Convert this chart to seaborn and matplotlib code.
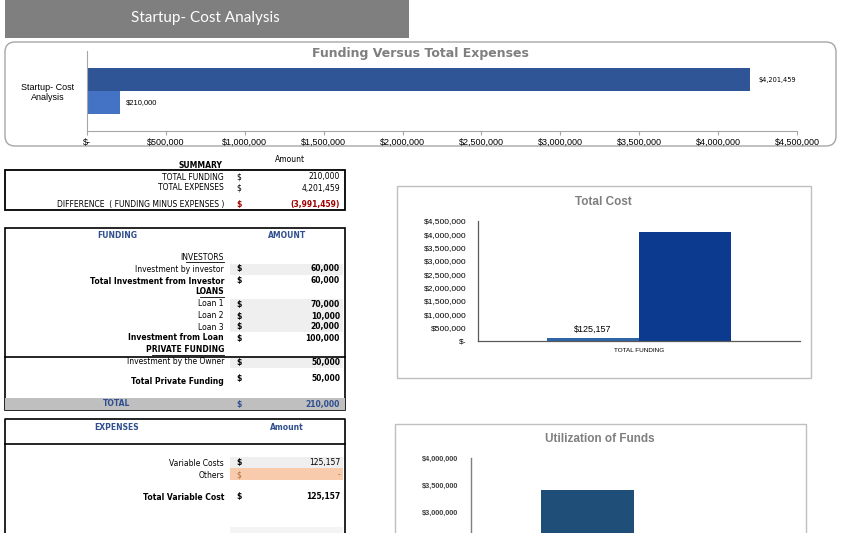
import pandas as pd
import matplotlib.pyplot as plt
import seaborn as sns
from matplotlib.patches import Rectangle, FancyBboxPatch

# ---- data ----
header_title = 'Startup- Cost Analysis'

fve_category = 'Startup- Cost\nAnalysis'
fve_series = ['Total Expenses', 'Total Funding']
fve_values = [4201459, 210000]
fve_ticks = [0, 500000, 1000000, 1500000, 2000000, 2500000, 3000000, 3500000, 4000000, 4500000]

summary_labels = ['TOTAL FUNDING', 'TOTAL EXPENSES', 'DIFFERENCE  ( FUNDING MINUS EXPENSES )']
summary_values = ['210,000', '4,201,459', '(3,991,459)']

funding_labels = ['Investment by investor', 'Total Investment from Investor',
                  'Loan 1', 'Loan 2', 'Loan 3', 'Investment from Loan',
                  'Investment by the Owner', 'Total Private Funding']
funding_values = ['60,000', '60,000', '70,000', '10,000', '20,000', '100,000', '50,000', '50,000']
funding_sections = ['INVESTORS', 'LOANS', 'PRIVATE FUNDING']
funding_total = '210,000'

expense_labels = ['Variable Costs', 'Others', 'Total Variable Cost']
expense_values = ['125,157', '-', '125,157']

tc_category = 'TOTAL FUNDING'
tc_series = ['Variable Cost', 'Other Cost']
tc_values = [125157, 4076302]
tc_ticks = [0, 500000, 1000000, 1500000, 2000000, 2500000, 3000000, 3500000, 4000000, 4500000]

uf_category = ['Funds']
uf_values = [3410000]
uf_ticks = [3000000, 3500000, 4000000]  # only these show above the crop

W, H = 850, 533
GRAY = '#7f7f7f'
BLUE_TXT = '#2f4f8f'
TF = 'DejaVu Sans'   # table font
CF = 'Liberation Sans'  # chart font
TS = 5.5  # table font size


def money(v):
    return '$-' if v == 0 else f'${v:,.0f}'


fig = plt.figure(figsize=(W / 100, H / 100), dpi=100)


def px_axes(x0, y0, x1, y1, z=2):
    return fig.add_axes([x0 / W, 1 - y1 / H, (x1 - x0) / W, (y1 - y0) / H], zorder=z)


bg = px_axes(0, 0, W, H, z=0)
bg.set_xlim(0, W)
bg.set_ylim(H, 0)
bg.axis('off')


def rect(x0, y0, x1, y1, **kw):
    bg.add_patch(Rectangle((x0, y0), x1 - x0, y1 - y0, **kw))


def txt(x, y, s, ha='right', size=TS, bold=False, color='black', family=TF, **kw):
    bg.text(x, y, s, ha=ha, va='center', fontsize=size, color=color, family=family,
            fontweight='bold' if bold else 'normal', **kw)


# header bar
rect(5, 0, 409, 38, facecolor=GRAY, edgecolor='none')
txt(205, 18, header_title, ha='center', size=11, color='white', family='Lato')

# rounded frame for top chart
bg.add_patch(FancyBboxPatch((5, 42), 831, 104, boxstyle='round,pad=0,rounding_size=10',
                            facecolor='white', edgecolor='#a6a6a6', lw=1))
txt(420, 54, 'Funding Versus Total Expenses', ha='center', size=9, bold=True, color=GRAY)

# ---- SUMMARY ----
txt(200, 165, 'SUMMARY', ha='center', bold=True)
txt(290, 160, 'Amount', ha='center')
rect(5, 170, 345, 210, facecolor='none', edgecolor='black', lw=1.3)
for y, lab, val in zip([177, 188, 205], summary_labels, summary_values):
    red = val.startswith('(')
    txt(224, y, lab)
    txt(239, y, '$', ha='center', bold=red, color='#a00000' if red else 'black')
    txt(340, y, val, bold=red, color='#a00000' if red else 'black')

# ---- FUNDING ----
rect(5, 228, 345, 410, facecolor='none', edgecolor='black', lw=1.2)
txt(117, 235, 'FUNDING', ha='center', bold=True, color=BLUE_TXT)
txt(287, 235, 'AMOUNT', ha='center', bold=True, color=BLUE_TXT)
for (y0, y1) in [(264, 275), (299, 332), (357, 368)]:
    rect(230, y0, 343, y1, facecolor='#efefef', edgecolor='none')
for y, s in zip([257, 292, 350], funding_sections):
    plain = s == 'INVESTORS'
    bg.text(224, y, s, ha='right', va='center', fontsize=TS, family=TF,
            fontweight='normal' if plain else 'bold')
    bg.plot([224 - len(s) * (4.2 if plain else 4.8), 224], [y + 4.5, y + 4.5],
            color='black', lw=0.6)
bg.plot([5, 345], [357, 357], color='black', lw=1.2)
rows_y = [269, 281, 304, 316, 327, 338, 362, 380]
bold_rows = {1, 5, 7}
for i, (y, lab, val) in enumerate(zip(rows_y, funding_labels, funding_values)):
    b = i in bold_rows
    txt(224, y + (1 if i == 7 else 0), lab, bold=b)
    txt(239, y - (2 if i == 7 else 0), '$', ha='center', bold=True)
    txt(340, y - (2 if i == 7 else 0), val, bold=True)
rect(5, 398, 345, 410, facecolor='#bfbfbf', edgecolor='none')
txt(117, 404, 'TOTAL', ha='center', bold=True, color=BLUE_TXT)
txt(239, 404, '$', ha='center', bold=True, color=BLUE_TXT)
txt(340, 404, funding_total, bold=True, color=BLUE_TXT)

# ---- EXPENSES ----
bg.plot([5, 5, 345, 345], [540, 419, 419, 540], color='black', lw=1.2)
bg.plot([5, 345], [444, 444], color='black', lw=1.2)
txt(117, 428, 'EXPENSES', ha='center', bold=True, color=BLUE_TXT)
txt(287, 428, 'Amount', ha='center', bold=True, color=BLUE_TXT)
rect(230, 457, 343, 468, facecolor='#efefef', edgecolor='none')
rect(230, 468, 343, 480, facecolor='#f8cbad', edgecolor='none')
rect(230, 527, 343, 533, facecolor='#f4f4f4', edgecolor='none')
for i, (y, lab, val) in enumerate(zip([463, 475, 497], expense_labels, expense_values)):
    b = i == 2
    col = '#b0703a' if i == 1 else 'black'
    txt(224, y, lab, bold=b)
    txt(239, y, '$', ha='center', bold=(i != 1), color=col)
    txt(340, y, val, bold=b, color=col)

# frames for the two right charts
rect(397, 186, 811, 378, facecolor='white', edgecolor='#bfbfbf', lw=1)
txt(603, 202, 'Total Cost', ha='center', size=8.5, bold=True, color=GRAY, family=CF)
rect(395, 424, 806, 545, facecolor='white', edgecolor='#bfbfbf', lw=1)
txt(600, 439, 'Utilization of Funds', ha='center', size=8.5, bold=True, color=GRAY, family=CF)

# ---- Funding versus total expenses (horizontal bars) ----
ax1 = px_axes(87, 51, 797, 131)
df1 = pd.DataFrame({'cat': [fve_category] * 2, 'series': fve_series, 'value': fve_values})
sns.barplot(data=df1, x='value', y='cat', hue='series', orient='h', dodge=True, width=0.8,
            palette=['#2f5597', '#4472c4'], legend=False, ax=ax1, saturation=1)
ax1.set_xlim(0, 4500000)
ax1.set_ylim(0.71, -0.71)
ax1.set_xticks(fve_ticks)
ax1.set_xticklabels([money(v) for v in fve_ticks], fontsize=6.5, family=CF)
ax1.tick_params(axis='x', length=3, color='#a6a6a6', pad=2)
ax1.tick_params(axis='y', length=0, pad=9)
for t in ax1.get_yticklabels():
    t.set_fontsize(6.5)
    t.set_family(CF)
    t.set_multialignment('center')
ax1.set_xlabel('')
ax1.set_ylabel('')
ax1.patch.set_alpha(0)
for s in ['top', 'right']:
    ax1.spines[s].set_visible(False)
for s in ['left', 'bottom']:
    ax1.spines[s].set_color('#a6a6a6')
    ax1.spines[s].set_linewidth(0.8)
ax1.bar_label(ax1.containers[0], labels=[money(fve_values[0])], padding=6, fontsize=4.8, family=TF)
ax1.bar_label(ax1.containers[1], labels=[money(fve_values[1])], padding=4, fontsize=5.5, family=CF)

# ---- Total Cost ----
ax2 = px_axes(478, 221, 800, 341)
df2 = pd.DataFrame({'cat': [tc_category] * 2, 'series': tc_series, 'value': tc_values})
sns.barplot(data=df2, x='cat', y='value', hue='series', dodge=True, width=0.8,
            palette=['#2e64a8', '#0b3a8e'], legend=False, ax=ax2, saturation=1)
ax2.set_xlim(-0.7, 0.7)
ax2.set_ylim(0, 4500000)
ax2.set_yticks(tc_ticks)
ax2.set_yticklabels([money(v) for v in tc_ticks], fontsize=6, family=CF)
ax2.tick_params(axis='both', length=0, pad=8)
ax2.tick_params(axis='x', pad=5)
for t in ax2.get_xticklabels():
    t.set_fontsize(4.6)
    t.set_family(CF)
ax2.set_xlabel('')
ax2.set_ylabel('')
ax2.patch.set_alpha(0)
for s in ['top', 'right']:
    ax2.spines[s].set_visible(False)
for s in ['left', 'bottom']:
    ax2.spines[s].set_color('#595959')
    ax2.spines[s].set_linewidth(0.9)
ax2.bar_label(ax2.containers[0], labels=[money(tc_values[0])], padding=3, fontsize=6.5, family=CF)

# ---- Utilization of funds ----
ax3 = px_axes(471, 458, 795, 674)
df3 = pd.DataFrame({'cat': uf_category, 'value': uf_values})
sns.barplot(data=df3, x='cat', y='value', width=0.8, color='#1f4e79', ax=ax3, saturation=1)
ax3.set_xlim(-1.0, 1.78)
ax3.set_ylim(0, 4000000)
ax3.set_yticks(uf_ticks)
ax3.set_yticklabels([money(v) for v in uf_ticks], fontsize=5.3, family=CF, fontweight='bold',
                    color='#404040')
ax3.tick_params(axis='both', length=0, pad=9)
ax3.set_xticks([])
ax3.set_xlabel('')
ax3.set_ylabel('')
ax3.patch.set_alpha(0)
for s in ['top', 'right', 'bottom']:
    ax3.spines[s].set_visible(False)
ax3.spines['left'].set_color('#7f7f7f')
ax3.spines['left'].set_linewidth(1)

fig.savefig('out.png', dpi=100)
